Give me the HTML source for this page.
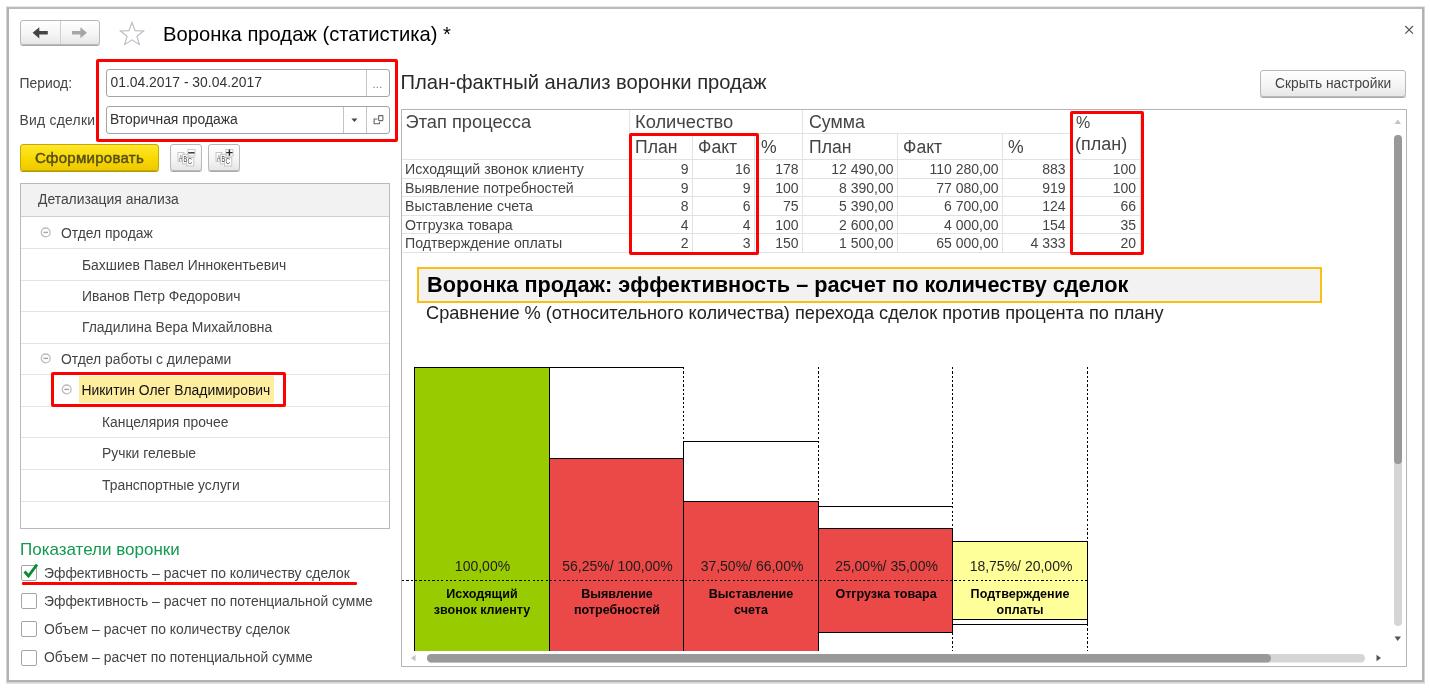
<!DOCTYPE html>
<html lang="ru">
<head>
<meta charset="utf-8">
<title>Воронка продаж (статистика)</title>
<style>
*{box-sizing:border-box;margin:0;padding:0}
html,body{width:1430px;height:690px;overflow:hidden;background:#fff}
body{font-family:"Liberation Sans",sans-serif;font-size:13.9px;color:#444;position:relative}
.abs{position:absolute}
.t{position:absolute;white-space:nowrap;line-height:1;transform:scaleY(1.06);transform-origin:0 85%}
.big{transform:none}
#win{left:7px;top:7px;width:1417px;height:675px;border:2px solid #b2b2b2;border-top-color:#bbb;background:#fff;box-shadow:0 0 0 1px rgba(170,170,170,.28),0 1px 0 1px rgba(150,150,150,.25)}
/* nav buttons */
.btn{position:absolute;border:1px solid #b9b9b9;border-radius:3px;background:linear-gradient(#ffffff,#f4f4f4 60%,#e6e6e6);box-shadow:0 1px 0 #a9a9a9}
.inp{position:absolute;border:1px solid #a4a4a4;border-radius:3px;background:#fff}
.red{position:absolute;border:3px solid #ff0000;border-radius:2px}
/* tree */
#tree{left:20px;top:183px;width:370px;height:346px;border:1px solid #b9b9b9;background:#fff}
#tree .hd{position:absolute;left:0;top:0;right:0;height:33px;background:#f2f2f2;border-bottom:1px solid #d0d0d0}
#tree .ln{position:absolute;left:0;right:0;height:1px;background:#e4e4e4}
.cb{position:absolute;width:16px;height:16px;border:1px solid #a5a5a5;border-radius:2px;background:#fff}
</style>
</head>
<body>
<div id="win" class="abs"></div>

<!-- header -->
<div class="btn" style="left:20px;top:20px;width:80px;height:25px"></div>
<div class="abs" style="left:60px;top:21px;width:1px;height:23px;background:#cfcfcf"></div>
<svg class="abs" style="left:20px;top:20px" width="80" height="25" viewBox="0 0 80 25">
  <path d="M12.600 12.800 L19.300 7.200 L19.300 11.100 L27.800 11.100 L27.800 14.500 L19.300 14.500 L19.300 18.400 Z" fill="#444"/>
  <path d="M67 12.800 L60.400 7.300 L60.400 11.100 L52 11.100 L52 14.500 L60.400 14.500 L60.400 18.300 Z" fill="#a6a6a6"/>
</svg>
<svg class="abs" style="left:118px;top:20px" width="28" height="27" viewBox="0 0 28 27">
  <path d="M14 2.5 L17.1 10.6 L25.6 10.9 L18.9 16.2 L21.3 24.6 L14 19.8 L6.7 24.6 L9.1 16.2 L2.4 10.9 L10.9 10.6 Z" fill="#fff" stroke="#b7bcc3" stroke-width="1.1" stroke-linejoin="miter"/>
</svg>
<div class="t big" style="left:163px;top:23.500px;font-size:20.200px;color:#000">Воронка продаж (статистика) *</div>
<svg class="abs" style="left:1404px;top:25px" width="11" height="11" viewBox="0 0 11 11"><path d="M1.300 1 L9 8.700 M9 1 L1.300 8.700" stroke="#555" stroke-width="1.200" fill="none"/></svg>

<!-- left: fields -->
<div class="t" style="left:19.500px;top:76.500px">Период:</div>
<div class="t" style="left:19.500px;top:114px;letter-spacing:0.25px">Вид сделки:</div>
<div class="inp" style="left:106px;top:69px;width:284px;height:28px"></div>
<div class="abs" style="left:366px;top:70px;width:1px;height:26px;background:#c4c4c4"></div>
<div class="t" style="left:110.500px;top:76px;color:#333">01.04.2017 - 30.04.2017</div>
<div class="t" style="left:372.500px;top:79px;font-size:11px;color:#777;letter-spacing:0.3px">...</div>
<div class="inp" style="left:106px;top:106px;width:284px;height:28px"></div>
<div class="abs" style="left:343px;top:107px;width:1px;height:26px;background:#c4c4c4"></div>
<div class="abs" style="left:366px;top:107px;width:1px;height:26px;background:#c4c4c4"></div>
<div class="t" style="left:110px;top:113px;color:#333">Вторичная продажа</div>
<svg class="abs" style="left:350px;top:117px" width="9" height="6" viewBox="0 0 9 6"><path d="M1.400 1.500 L7.400 1.500 L4.400 4.900 Z" fill="#444"/></svg>
<svg class="abs" style="left:372px;top:114px" width="13" height="12" viewBox="0 0 13 12"><path d="M2.100 5 H5.500 M2.100 4.600 V9.800 H7.500 V8" fill="none" stroke="#666" stroke-width="1.100" stroke-linejoin="round"/><rect x="6.600" y="1.600" width="4.300" height="5" rx="0.600" fill="#fff" stroke="#666" stroke-width="1.100"/></svg>
<div class="red" style="left:96px;top:59px;width:302px;height:83px"></div>

<!-- buttons row -->
<div class="abs" style="left:20px;top:144px;width:139px;height:27px;border:1px solid #c9a800;border-radius:3px;background:linear-gradient(#ffe72e,#f7d900 55%,#eec900);box-shadow:0 1px 0 #b49a00"></div>
<div class="t" style="left:35px;top:149.500px;font-size:15px;color:#554c1c;-webkit-text-stroke:0.45px #554c1c;letter-spacing:0.27px;transform:none">Сформировать</div>
<div class="btn" style="left:170px;top:144px;width:32px;height:27px"></div>
<div class="btn" style="left:208px;top:144px;width:32px;height:27px"></div>
<svg class="abs" style="left:177px;top:148px" width="20" height="20" viewBox="0 0 20 20">
  <rect x="10.800" y="1.500" width="7.200" height="6.500" fill="#fdfdfd" stroke="#c6c6c6" stroke-width="0.900"/>
  <rect x="1" y="4.500" width="6" height="9" fill="#fbfbfb" stroke="#c2c2c2" stroke-width="0.900"/>
  <rect x="5.400" y="6.400" width="5.600" height="9.500" fill="#fbfbfb" stroke="#c2c2c2" stroke-width="0.900"/>
  <rect x="9.600" y="9.600" width="7.200" height="8.400" fill="#fdfdfd" stroke="#c2c2c2" stroke-width="0.900"/>
  <text x="2.100" y="12.600" font-size="8.300" font-family="Liberation Sans,sans-serif" fill="#4a4a4a" textLength="3.400" lengthAdjust="spacingAndGlyphs">A</text>
  <text x="6.500" y="14" font-size="8.300" font-family="Liberation Sans,sans-serif" fill="#4a4a4a" textLength="3.400" lengthAdjust="spacingAndGlyphs">B</text>
  <text x="10.600" y="15.800" font-size="8.300" font-family="Liberation Sans,sans-serif" fill="#555" textLength="4.600" lengthAdjust="spacingAndGlyphs">C</text>
  <path d="M11.200 4.800 H17.600" stroke="#3a3a3a" stroke-width="1.500"/>
</svg>
<svg class="abs" style="left:215px;top:148px" width="20" height="20" viewBox="0 0 20 20">
  <rect x="10.800" y="1.500" width="7.200" height="6.500" fill="#fdfdfd" stroke="#c6c6c6" stroke-width="0.900"/>
  <rect x="1" y="4.500" width="6" height="9" fill="#fbfbfb" stroke="#c2c2c2" stroke-width="0.900"/>
  <rect x="5.400" y="6.400" width="5.600" height="9.500" fill="#fbfbfb" stroke="#c2c2c2" stroke-width="0.900"/>
  <rect x="9.600" y="9.600" width="7.200" height="8.400" fill="#fdfdfd" stroke="#c2c2c2" stroke-width="0.900"/>
  <text x="2.100" y="12.600" font-size="8.300" font-family="Liberation Sans,sans-serif" fill="#4a4a4a" textLength="3.400" lengthAdjust="spacingAndGlyphs">A</text>
  <text x="6.500" y="14" font-size="8.300" font-family="Liberation Sans,sans-serif" fill="#4a4a4a" textLength="3.400" lengthAdjust="spacingAndGlyphs">B</text>
  <text x="10.600" y="15.800" font-size="8.300" font-family="Liberation Sans,sans-serif" fill="#555" textLength="4.600" lengthAdjust="spacingAndGlyphs">C</text>
  <path d="M11.200 4.600 H17.600 M14.400 1.400 V7.800" stroke="#2a2a2a" stroke-width="1.400"/>
</svg>

<!-- tree -->
<div id="tree" class="abs">
  <div class="hd"></div>
  <div class="ln" style="top:64px"></div>
  <div class="ln" style="top:96px"></div>
  <div class="ln" style="top:127px"></div>
  <div class="ln" style="top:159px"></div>
  <div class="ln" style="top:190px"></div>
  <div class="ln" style="top:222px"></div>
  <div class="ln" style="top:253px"></div>
  <div class="ln" style="top:285px"></div>
  <div class="ln" style="top:317px"></div>
</div>
<div class="t" style="left:38px;top:193px">Детализация анализа</div>
<div class="t" style="left:61px;top:227px">Отдел продаж</div>
<div class="t" style="left:82px;top:259px">Бахшиев Павел Иннокентьевич</div>
<div class="t" style="left:82px;top:289.500px">Иванов Петр Федорович</div>
<div class="t" style="left:82px;top:321px">Гладилина Вера Михайловна</div>
<div class="t" style="left:61px;top:352.500px">Отдел работы с дилерами</div>
<div class="abs" style="left:79px;top:376px;width:195px;height:27px;background:#ffeea0"></div>
<div class="t" style="left:81.500px;top:384px;color:#111">Никитин Олег Владимирович</div>
<div class="t" style="left:102px;top:415.500px">Канцелярия прочее</div>
<div class="t" style="left:102px;top:447px">Ручки гелевые</div>
<div class="t" style="left:102px;top:479px">Транспортные услуги</div>
<svg class="abs" style="left:40px;top:226.500px" width="11" height="11" viewBox="0 0 11 11"><circle cx="5.700" cy="5.400" r="4.400" fill="#fff" stroke="#bcbcbc" stroke-width="1.300"/><path d="M3.400 5.400 H8" stroke="#a4a4a4" stroke-width="1.400"/></svg>
<svg class="abs" style="left:40px;top:353px" width="11" height="11" viewBox="0 0 11 11"><circle cx="5.700" cy="5.400" r="4.400" fill="#fff" stroke="#bcbcbc" stroke-width="1.300"/><path d="M3.400 5.400 H8" stroke="#a4a4a4" stroke-width="1.400"/></svg>
<svg class="abs" style="left:61px;top:384px" width="11" height="11" viewBox="0 0 11 11"><circle cx="5.700" cy="5.400" r="4.400" fill="#fff" stroke="#bcbcbc" stroke-width="1.300"/><path d="M3.400 5.400 H8" stroke="#a4a4a4" stroke-width="1.400"/></svg>
<div class="red" style="left:51px;top:372px;width:235px;height:35px"></div>

<!-- indicators -->
<div class="t big" style="left:20px;top:541px;font-size:17px;color:#129a50">Показатели воронки</div>
<div class="cb" style="left:21px;top:565px"></div>
<div class="cb" style="left:21px;top:593px"></div>
<div class="cb" style="left:21px;top:621px"></div>
<div class="cb" style="left:21px;top:650px"></div>
<svg class="abs" style="left:22px;top:563px" width="18" height="18" viewBox="0 0 18 18"><path d="M2.500 8.500 L6.500 13 L15 1.500" fill="none" stroke="#0b8a35" stroke-width="2.900"/></svg>
<div class="t" style="left:44px;top:567px">Эффективность – расчет по количеству сделок</div>
<div class="t" style="left:44px;top:595px">Эффективность – расчет по потенциальной сумме</div>
<div class="t" style="left:44px;top:623px">Объем – расчет по количеству сделок</div>
<div class="t" style="left:44px;top:651px">Объем – расчет по потенциальной сумме</div>
<div class="abs" style="left:22px;top:582px;width:335px;height:3px;background:#ff0000;border-radius:1px"></div>

<!-- RIGHT -->
<!--RIGHT-START-->
<div class="t big" style="left:400.500px;top:72px;font-size:20.200px;color:#2a2a2a">План-фактный анализ воронки продаж</div>
<div class="btn" style="left:1260px;top:70px;width:146px;height:27px"></div>
<div class="t" style="left:1275px;top:77px;font-size:13.800px;color:#444">Скрыть настройки</div>
<div class="abs" style="left:401px;top:109px;width:1006px;height:558px;border:1px solid #b5b5b5;background:#fff"></div>
<svg class="abs" style="left:0;top:0" width="1430" height="690" viewBox="0 0 1430 690" font-family="Liberation Sans, sans-serif">
<defs><clipPath id="cp"><rect x="402" y="110" width="988" height="541"/></clipPath></defs>
<g clip-path="url(#cp)">
<!-- table grid -->
<g stroke="#e2e2e2" stroke-width="1" fill="none" shape-rendering="crispEdges">
  <path d="M402 159.500 H1140 M402 178.500 H1140 M402 196.500 H1140 M402 215.500 H1140 M402 233.500 H1140 M402 252.500 H1140"/>
  <path d="M629.500 133.500 H1071.500"/>
  <path d="M629.500 110 V252 M802.500 110 V252 M1071.500 110 V252 M1140.500 110 V252"/>
  <path d="M692.500 133 V252 M754.500 133 V252 M897.500 133 V252 M1002.500 133 V252"/>
</g>
<g fill="#444" font-size="18">
  <text x="405.500" y="128" font-size="18.300">Этап процесса</text>
  <text x="635" y="128" font-size="18.300">Количество</text>
  <text x="809" y="128" font-size="17.800">Сумма</text>
  <text x="1076" y="128" font-size="16">%</text>
  <text x="1075" y="150">(план)</text>
  <text x="635" y="153" font-size="17.600">План</text>
  <text x="698" y="153" font-size="17.600">Факт</text>
  <text x="761" y="153" font-size="17.600">%</text>
  <text x="809" y="153" font-size="17.600">План</text>
  <text x="903" y="153" font-size="17.600">Факт</text>
  <text x="1008" y="153" font-size="17.600">%</text>
</g>
<g fill="#444" font-size="14.200">
  <text x="405" y="174">Исходящий звонок клиенту</text>
  <text x="405" y="192.500">Выявление потребностей</text>
  <text x="405" y="211">Выставление счета</text>
  <text x="405" y="229.500">Отгрузка товара</text>
  <text x="405" y="248">Подтверждение оплаты</text>
</g>
<g fill="#444" font-size="14" text-anchor="end">
  <text x="688.500" y="174">9</text><text x="750.500" y="174">16</text><text x="798.500" y="174">178</text><text x="893.500" y="174">12 490,00</text><text x="998.500" y="174">110 280,00</text><text x="1065.500" y="174">883</text><text x="1136" y="174">100</text>
  <text x="688.500" y="192.500">9</text><text x="750.500" y="192.500">9</text><text x="798.500" y="192.500">100</text><text x="893.500" y="192.500">8 390,00</text><text x="998.500" y="192.500">77 080,00</text><text x="1065.500" y="192.500">919</text><text x="1136" y="192.500">100</text>
  <text x="688.500" y="211">8</text><text x="750.500" y="211">6</text><text x="798.500" y="211">75</text><text x="893.500" y="211">5 390,00</text><text x="998.500" y="211">6 700,00</text><text x="1065.500" y="211">124</text><text x="1136" y="211">66</text>
  <text x="688.500" y="229.500">4</text><text x="750.500" y="229.500">4</text><text x="798.500" y="229.500">100</text><text x="893.500" y="229.500">2 600,00</text><text x="998.500" y="229.500">4 000,00</text><text x="1065.500" y="229.500">154</text><text x="1136" y="229.500">35</text>
  <text x="688.500" y="248">2</text><text x="750.500" y="248">3</text><text x="798.500" y="248">150</text><text x="893.500" y="248">1 500,00</text><text x="998.500" y="248">65 000,00</text><text x="1065.500" y="248">4 333</text><text x="1136" y="248">20</text>
</g>
<!-- chart title -->
<rect x="418" y="268" width="903" height="34" fill="#f2f2f2" stroke="#fbbf14" stroke-width="2"/>
<text x="427" y="292" font-size="21.700" font-weight="bold" fill="#000">Воронка продаж: эффективность – расчет по количеству сделок</text>
<text x="426" y="319" font-size="18.200" fill="#222">Сравнение % (относительного количества) перехода сделок против процента по плану</text>
<!-- bars -->
<g shape-rendering="crispEdges" stroke="#000" stroke-width="1">
  <rect x="414.500" y="367.500" width="135" height="300" fill="#99cc00"/>
  <rect x="549.500" y="367.500" width="134" height="91" fill="#fff" stroke="none"/>
  <rect x="549.500" y="458.500" width="134" height="210" fill="#eb4848"/>
  <path d="M549.500 367.500 H683.500" fill="none"/>
  <rect x="683.500" y="501.500" width="135" height="170" fill="#eb4848"/>
  <path d="M683.500 501.500 V441.500 H818.500" fill="none"/>
  <rect x="818.500" y="528.500" width="134" height="104" fill="#eb4848"/>
  <path d="M818.500 528.500 V506.500 H952.500" fill="none"/>
  <rect x="952.500" y="541.500" width="135" height="82.500" fill="#fff"/>
  <rect x="952.500" y="541.500" width="135" height="77.500" fill="#ffff99"/>
  <g stroke-dasharray="2.200 2.150" fill="none">
    <path d="M683.500 367 V441"/>
    <path d="M818.500 367 V506"/>
    <path d="M952.500 367 V541 M952.500 624 V651"/>
    <path d="M1087.500 367 V541 M1087.500 624 V651"/>
    <path d="M818.500 633 V651"/>
  </g>
  <path d="M402 580.500 H1087" stroke-dasharray="2.200 2.150" fill="none"/>
</g>
<g font-size="14" fill="#1c1c1c" text-anchor="middle">
  <text x="482.500" y="571">100,00%</text>
  <text x="617.500" y="571">56,25%/ 100,00%</text>
  <text x="752" y="571">37,50%/ 66,00%</text>
  <text x="886.500" y="571">25,00%/ 35,00%</text>
  <text x="1021" y="571">18,75%/ 20,00%</text>
</g>
<g font-size="12.550" font-weight="bold" fill="#050505" text-anchor="middle">
  <text x="482" y="598.300">Исходящий</text><text x="482" y="614.400">звонок клиенту</text>
  <text x="617" y="598.300">Выявление</text><text x="617" y="614.400">потребностей</text>
  <text x="751" y="598.300">Выставление</text><text x="751" y="614.400">счета</text>
  <text x="886" y="598.300">Отгрузка товара</text>
  <text x="1020" y="598.300">Подтверждение</text><text x="1020" y="614.400">оплаты</text>
</g>
</g>
<!-- scrollbars -->
<rect x="1394" y="135" width="8" height="491" rx="4" fill="#d5d5d5"/>
<rect x="1394" y="135" width="8" height="329" rx="4" fill="#999"/>
<path d="M1394.500 124 L1401 124 L1397.750 119.500 Z" fill="#c4c4c4"/>
<path d="M1394.500 636.500 L1401 636.500 L1397.750 641 Z" fill="#555"/>
<rect x="427" y="654" width="938" height="8.500" rx="4.250" fill="#d5d5d5"/>
<rect x="427" y="654" width="844" height="8.500" rx="4.250" fill="#999"/>
<path d="M1376.500 654.800 L1376.500 661.200 L1381 658 Z" fill="#555"/>
<path d="M415.500 654.800 L415.500 661.200 L411 658 Z" fill="#c4c4c4"/>
</svg>
<div class="red" style="left:629px;top:133px;width:130px;height:122px"></div>
<div class="red" style="left:1070px;top:111px;width:74px;height:144px"></div>
<!--RIGHT-END-->
</body>
</html>
